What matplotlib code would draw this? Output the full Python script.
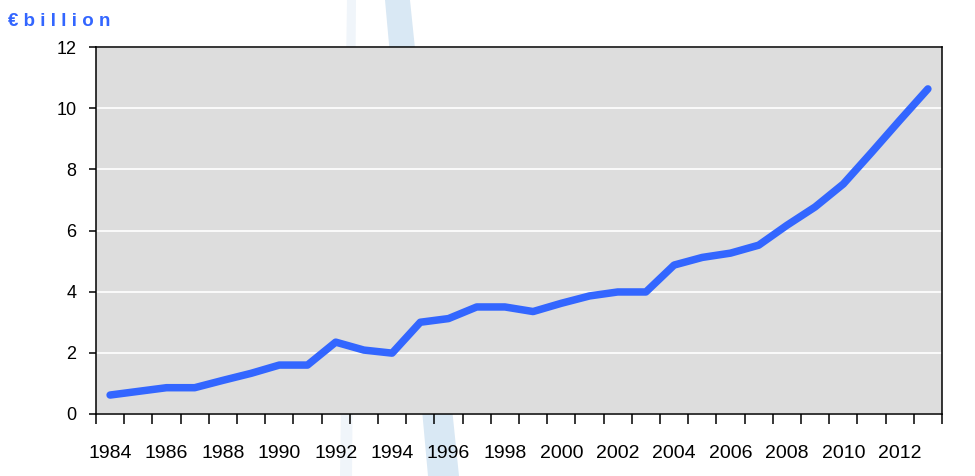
import matplotlib.pyplot as plt
from matplotlib.patches import Polygon

plt.rcParams['font.family'] = ['Liberation Sans', 'DejaVu Sans']

anos = list(range(1984, 2014))
valores = [0.62, 0.74, 0.86, 0.86, 1.1, 1.33, 1.6, 1.6, 2.35, 2.09,
           1.99, 3.0, 3.12, 3.5, 3.5, 3.35, 3.62, 3.86, 3.99, 3.99,
           4.87, 5.12, 5.26, 5.52, 6.17, 6.77, 7.52, 8.55, 9.6, 10.63]
rotulos = [str(a) for a in anos[::2]]

fig = plt.figure(figsize=(9.75, 4.76), dpi=100)

# faixa azul clara no fundo (fica atras do grafico)
fig.patches.append(Polygon([[385/975, 1], [410/975, 1], [459/975, 0], [428/975, 0]],
                           closed=True, transform=fig.transFigure,
                           facecolor='#d9e8f4', edgecolor='none', zorder=-5))
fig.patches.append(Polygon([[347/975, 1], [356/975, 1], [352/975, 0], [340/975, 0]],
                           closed=True, transform=fig.transFigure,
                           facecolor='#f0f5fa', edgecolor='none', zorder=-5))

ax = fig.add_axes([96/975, 62/476, 846/975, 367/476])
ax.set_facecolor('#dddddd')

x = range(len(anos))
ax.plot(x, valores, color='#3366ff', linewidth=5.4, solid_capstyle='round',
        solid_joinstyle='round', zorder=3)

ax.set_xlim(-0.5, len(anos) - 0.5)
ax.set_ylim(0, 12)
ax.set_yticks(range(0, 13, 2))
ax.yaxis.grid(True, color='white', linewidth=1.2)
ax.set_axisbelow(True)

ax.set_xticks(range(0, len(anos), 2))
ax.set_xticklabels(rotulos)
ax.set_xticks([i - 0.5 for i in range(len(anos) + 1)], minor=True)
ax.tick_params(axis='x', which='major', length=0, pad=22, labelsize=14)
ax.tick_params(axis='x', which='minor', length=7, width=1.1, direction='out')
ax.tick_params(axis='y', length=5, width=1.1, pad=9, labelsize=13)

for s in ax.spines.values():
    s.set_linewidth(1.1)

fig.text(8/975, 1 - 22/476, '€ b i l l i o n', color='#3366ff', fontsize=13.5,
         fontweight='bold', va='center', ha='left')

plt.savefig('out.png', dpi=100)
plt.close()
